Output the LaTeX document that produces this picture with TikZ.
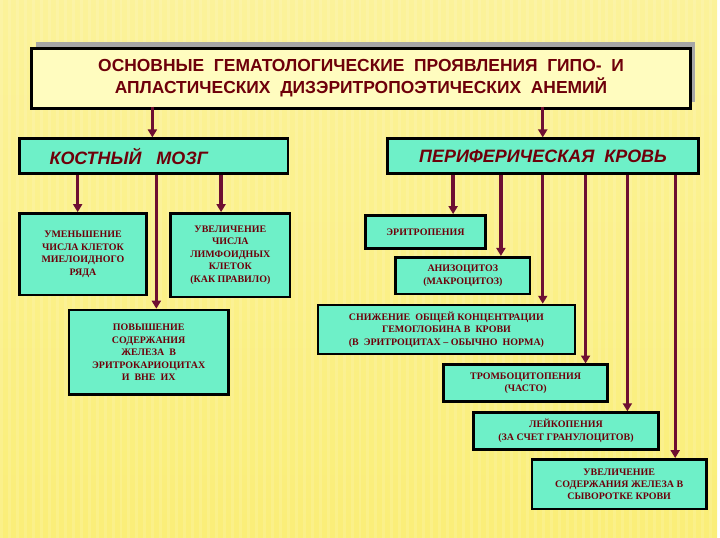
\documentclass[tikz,border=0pt]{standalone}
\usepackage{fontspec}
\setmainfont{Liberation Serif}
\newfontfamily\sansf{Liberation Sans}
\usetikzlibrary{arrows.meta}
\definecolor{bgy}{RGB}{250,238,120}
\definecolor{aqua}{RGB}{110,240,200}
\definecolor{mar}{RGB}{110,15,50}
\definecolor{txt}{RGB}{110,0,10}
\begin{document}
\begin{tikzpicture}[x=1pt,y=-1pt,
  box/.style={draw=black,line width=2.6pt,fill=aqua,text=txt,font=\bfseries\fontsize{10}{12.5}\selectfont,align=center,inner sep=0pt,anchor=north west},
  hd/.style={box,font=\sansf\bfseries\itshape\fontsize{18}{20}\selectfont},
  ar/.style={draw=mar,line width=3.4pt,-{Triangle[length=8pt,width=9pt]}}]
\shade[top color=bgy!75!white,bottom color=bgy] (0,0) rectangle (720,540);
\foreach \i in {0,8,...,720}{\fill[white,opacity=0.12] (\i,0) rectangle ++(3,540);}
\useasboundingbox (0,0) rectangle (720,540);
\fill[gray!70] (36,42) rectangle (698,102);
\node[box,fill=yellow!25,line width=3pt,minimum width=662pt,minimum height=60pt,font=\sansf\bfseries\fontsize{17.5}{22}\selectfont] (t) at (30,47) {ОСНОВНЫЕ\ \ ГЕМАТОЛОГИЧЕСКИЕ\ \ ПРОЯВЛЕНИЯ\ \ ГИПО-\ \ И\\АПЛАСТИЧЕСКИХ\ \ ДИЗЭРИТРОПОЭТИЧЕСКИХ\ \ АНЕМИЙ};
\node[hd,minimum width=270pt,minimum height=35pt] (km) at (18,138) {\hspace*{-50pt}КОСТНЫЙ\ \ \ МОЗГ};
\node[hd,minimum width=312pt,minimum height=35pt] (pk) at (388,138) {ПЕРИФЕРИЧЕСКАЯ\ \ КРОВЬ};
\node[box,minimum width=128pt,minimum height=82pt] (b1) at (18,213) {УМЕНЬШЕНИЕ\\ЧИСЛА КЛЕТОК\\МИЕЛОИДНОГО\\РЯДА};
\node[box,minimum width=120pt,minimum height=84pt] (b2) at (170,213) {УВЕЛИЧЕНИЕ\\ЧИСЛА\\ЛИМФОИДНЫХ\\КЛЕТОК\\(КАК ПРАВИЛО)};
\node[box,minimum width=160pt,minimum height=85pt] (b3) at (68,310) {ПОВЫШЕНИЕ\\СОДЕРЖАНИЯ\\ЖЕЛЕЗА\ \ В\\ЭРИТРОКАРИОЦИТАХ\\И\ \ ВНЕ\ \ ИХ};
\node[box,minimum width=120pt,minimum height=33pt] (r1) at (366,215) {ЭРИТРОПЕНИЯ};
\node[box,minimum width=135pt,minimum height=37pt] (r2) at (396,257) {АНИЗОЦИТОЗ\\(МАКРОЦИТОЗ)};
\node[box,minimum width=258pt,minimum height=49pt] (r3) at (318,305) {СНИЖЕНИЕ\ \ ОБЩЕЙ КОНЦЕНТРАЦИИ\\ГЕМОГЛОБИНА В\ \ КРОВИ\\(В\ \ ЭРИТРОЦИТАХ -- ОБЫЧНО\ \ НОРМА)};
\node[box,minimum width=165pt,minimum height=37pt] (r4) at (444,365) {ТРОМБОЦИТОПЕНИЯ\\(ЧАСТО)};
\node[box,minimum width=186pt,minimum height=37pt] (r5) at (474,413) {ЛЕЙКОПЕНИЯ\\(ЗА СЧЕТ ГРАНУЛОЦИТОВ)};
\node[box,minimum width=175pt,minimum height=50pt] (r6) at (533,460) {УВЕЛИЧЕНИЕ\\СОДЕРЖАНИЯ ЖЕЛЕЗА В\\СЫВОРОТКЕ КРОВИ};
\draw[ar] (153,107) -- (km.north -| 153,0);
\draw[ar] (545,107) -- (pk.north -| 545,0);
\draw[ar] (km.south -| 78,0) -- (b1.north -| 78,0);
\draw[ar] (km.south -| 222,0) -- (b2.north -| 222,0);
\draw[ar] (km.south -| 157,0) -- (b3.north -| 157,0);
\draw[ar] (pk.south -| 455,0) -- (r1.north -| 455,0);
\draw[ar] (pk.south -| 503,0) -- (r2.north -| 503,0);
\draw[ar] (pk.south -| 545,0) -- (r3.north -| 545,0);
\draw[ar] (pk.south -| 588,0) -- (r4.north -| 588,0);
\draw[ar] (pk.south -| 630,0) -- (r5.north -| 630,0);
\draw[ar] (pk.south -| 678,0) -- (r6.north -| 678,0);
\end{tikzpicture}
\end{document}
